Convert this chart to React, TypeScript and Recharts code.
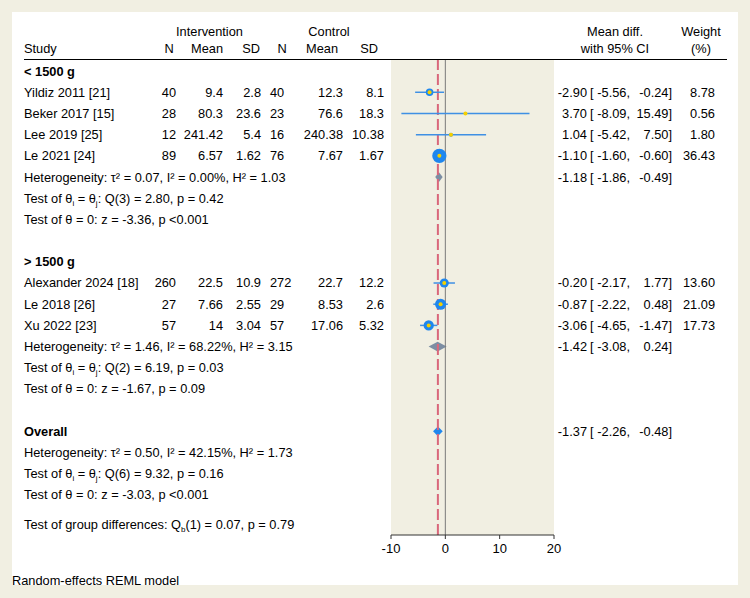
import React from "react";
import {
  CartesianGrid,
  ComposedChart,
  ErrorBar,
  ReferenceArea,
  ReferenceLine,
  Scatter,
  XAxis,
  YAxis,
} from "recharts";

// study rows
const studies = [
  "Yildiz 2011 [21]",
  "Beker 2017 [15]",
  "Lee 2019 [25]",
  "Le 2021 [24]",
  "Alexander 2024 [18]",
  "Le 2018 [26]",
  "Xu 2022 [23]",
];
const studyRow = [1, 2, 3, 4, 10, 11, 12];
const intN = ["40", "28", "12", "89", "260", "27", "57"];
const intMean = ["9.4", "80.3", "241.42", "6.57", "22.5", "7.66", "14"];
const intSD = ["2.8", "23.6", "5.4", "1.62", "10.9", "2.55", "3.04"];
const ctlN = ["40", "23", "16", "76", "272", "29", "57"];
const ctlMean = ["12.3", "76.6", "240.38", "7.67", "22.7", "8.53", "17.06"];
const ctlSD = ["8.1", "18.3", "10.38", "1.67", "12.2", "2.6", "5.32"];
const md = [-2.9, 3.7, 1.04, -1.1, -0.2, -0.87, -3.06];
const mdLo = [-5.56, -8.09, -5.42, -1.6, -2.17, -2.22, -4.65];
const mdHi = [-0.24, 15.49, 7.5, -0.6, 1.77, 0.48, -1.47];
const weight = [8.78, 0.56, 1.8, 36.43, 13.6, 21.09, 17.73];

// subgroups + overall
const groupLabels = ["< 1500 g", "> 1500 g", "Overall"];
const groupRow = [0, 9, 17];
const statRow = [5, 13, 18];
const pooledRow = [5, 13, 17];
const pooledMd = [-1.18, -1.42, -1.37];
const pooledLo = [-1.86, -3.08, -2.26];
const pooledHi = [-0.49, 0.24, -0.48];
const hetText = [
  "Heterogeneity: τ² = 0.07, I² = 0.00%, H² = 1.03",
  "Heterogeneity: τ² = 1.46, I² = 68.22%, H² = 3.15",
  "Heterogeneity: τ² = 0.50, I² = 42.15%, H² = 1.73",
];
const qText = ["Q(3) = 2.80, p = 0.42", "Q(2) = 6.19, p = 0.03", "Q(6) = 9.32, p = 0.16"];
const zText = ["z = -3.36, p <0.001", "z = -1.67, p = 0.09", "z = -3.03, p <0.001"];
const groupDiffRow = 21.4;

const xTicks = [-10, 0, 10, 20];

const W = 750;
const H = 598;
const PLOT_L = 391;
const PLOT_R = 554;
const PLOT_T = 59;
const PLOT_B = 535;
const Y_MIN = -0.57;
const Y_MAX = 21.89;

const BLUE = "#1f87ee";
const CI_BLUE = "#3f90e4";
const YELLOW = "#f5d000";
const GREY_DIAMOND = "#7c8ea3";
const BEIGE = "#f1efe2";
const FONT = "'Liberation Sans', Arial, Helvetica, sans-serif";

const rowY = (r: number) => PLOT_T + ((r - Y_MIN) * (PLOT_B - PLOT_T)) / (Y_MAX - Y_MIN);

const points = studies.map((s, i) => ({
  x: md[i],
  y: studyRow[i],
  w: weight[i],
  err: [md[i] - mdLo[i], mdHi[i] - md[i]],
}));

function StudyMarker(props: any) {
  const { cx, cy, payload } = props;
  const r = 1.1 * Math.sqrt(payload.w) + 0.5;
  return (
    <g>
      <circle cx={cx} cy={cy} r={r} fill={BLUE} />
      <circle cx={cx} cy={cy} r={2} fill={YELLOW} />
    </g>
  );
}

function diamond(color: string) {
  return (p: any) => {
    const { x, y, width, height } = p;
    const midY = y + height / 2;
    const est = p.est;
    return (
      <polygon
        points={`${x},${midY} ${est},${y} ${x + width},${midY} ${est},${y + height}`}
        fill={color}
      />
    );
  };
}

function Sub({ children }: { children: string }) {
  return (
    <tspan dy={3} fontSize={8}>
      {children}
    </tspan>
  );
}

function CiText({ r, est, lo, hi, w }: { r: number; est: number; lo: number; hi: number; w?: number }) {
  const y = rowY(r);
  return (
    <g>
      <text x={587} y={y} dy="0.35em" textAnchor="end">{est.toFixed(2)}</text>
      <text x={590} y={y} dy="0.35em">[</text>
      <text x={630} y={y} dy="0.35em" textAnchor="end">{lo.toFixed(2)},</text>
      <text x={672} y={y} dy="0.35em" textAnchor="end">{hi.toFixed(2)}]</text>
      {w != null && (
        <text x={715} y={y} dy="0.35em" textAnchor="end">{w.toFixed(2)}</text>
      )}
    </g>
  );
}

export default function App() {
  const xScale = (v: number) => PLOT_L + ((v + 10) * (PLOT_R - PLOT_L)) / 30;
  return (
    <div style={{ position: "relative", width: W, height: H, background: BEIGE, fontFamily: FONT }}>
      <style>{`body{margin:0}`}</style>
      <div style={{ position: "absolute", left: 12, top: 12, width: 726, height: 573, background: "#fff" }} />
      <div style={{ position: "absolute", left: 0, top: 0 }}>
        <ComposedChart
          width={W}
          height={H}
          margin={{ top: PLOT_T, right: W - PLOT_R, bottom: H - PLOT_B - 30, left: PLOT_L }}
        >
          <CartesianGrid fill={BEIGE} horizontal={false} vertical={false} />
          <XAxis
            type="number"
            dataKey="x"
            domain={[-10, 20]}
            ticks={xTicks}
            allowDataOverflow
            height={30}
            tickSize={4}
            tickMargin={5}
            stroke="#333"
            tick={{ fill: "#000", fontSize: 13, fontFamily: FONT }}
          />
          <YAxis type="number" dataKey="y" domain={[Y_MIN, Y_MAX]} reversed hide allowDataOverflow />
          <ReferenceLine x={0} stroke="#7a7a7a" strokeWidth={1} />
          <ReferenceLine x={pooledMd[2]} stroke="#d9677b" strokeWidth={2} strokeDasharray="11 4" />
          {pooledRow.map((r, i) => (
            <ReferenceArea
              key={i}
              x1={pooledLo[i]}
              x2={pooledHi[i]}
              y1={r - 0.23}
              y2={r + 0.23}
              shape={(p: any) =>
                diamond(i === 2 ? BLUE : GREY_DIAMOND)({ ...p, est: xScale(pooledMd[i]) })
              }
            />
          ))}
          <Scatter data={points} shape={<StudyMarker />} isAnimationActive={false}>
            <ErrorBar dataKey="err" direction="x" width={0} stroke={CI_BLUE} strokeWidth={1.5} />
          </Scatter>
        </ComposedChart>
      </div>
      <svg
        width={W}
        height={H}
        style={{ position: "absolute", left: 0, top: 0, pointerEvents: "none" }}
        fontFamily={FONT}
        fontSize={12.8}
        fill="#000"
      >
        {/* header */}
        <text x={209.5} y={32} dy="0.35em" textAnchor="middle">Intervention</text>
        <text x={329} y={32} dy="0.35em" textAnchor="middle">Control</text>
        <text x={24} y={49} dy="0.35em">Study</text>
        <text x={169} y={49} dy="0.35em" textAnchor="middle">N</text>
        <text x={223} y={49} dy="0.35em" textAnchor="end">Mean</text>
        <text x={260} y={49} dy="0.35em" textAnchor="end">SD</text>
        <text x={282} y={49} dy="0.35em" textAnchor="middle">N</text>
        <text x={338} y={49} dy="0.35em" textAnchor="end">Mean</text>
        <text x={378} y={49} dy="0.35em" textAnchor="end">SD</text>
        <text x={615} y={32} dy="0.35em" textAnchor="middle">Mean diff.</text>
        <text x={615} y={49} dy="0.35em" textAnchor="middle">with 95% CI</text>
        <text x={701} y={32} dy="0.35em" textAnchor="middle">Weight</text>
        <text x={701} y={49} dy="0.35em" textAnchor="middle">(%)</text>
        <line x1={24} x2={727} y1={59.5} y2={59.5} stroke="#000" strokeWidth={1} />

        {/* group headings and stats */}
        {groupLabels.map((g, i) => {
          const sr = statRow[i];
          return (
            <g key={g}>
              <text x={24} y={rowY(groupRow[i])} dy="0.35em" fontWeight="bold">{g}</text>
              <text x={24} y={rowY(sr)} dy="0.35em">{hetText[i]}</text>
              <text x={24} y={rowY(sr + 1)} dy="0.35em">
                Test of θ<Sub>i</Sub>
                <tspan dy={-3}> = θ</tspan>
                <Sub>j</Sub>
                <tspan dy={-3}>: {qText[i]}</tspan>
              </text>
              <text x={24} y={rowY(sr + 2)} dy="0.35em">Test of θ = 0: {zText[i]}</text>
              <CiText r={pooledRow[i]} est={pooledMd[i]} lo={pooledLo[i]} hi={pooledHi[i]} />
            </g>
          );
        })}
        <text x={24} y={rowY(groupDiffRow)} dy="0.35em">
          Test of group differences: Q<Sub>b</Sub>
          <tspan dy={-3}>(1) = 0.07, p = 0.79</tspan>
        </text>

        {/* study rows */}
        {studies.map((s, i) => {
          const y = rowY(studyRow[i]);
          return (
            <g key={s}>
              <text x={24} y={y} dy="0.35em">{s}</text>
              <text x={176} y={y} dy="0.35em" textAnchor="end">{intN[i]}</text>
              <text x={223} y={y} dy="0.35em" textAnchor="end">{intMean[i]}</text>
              <text x={261} y={y} dy="0.35em" textAnchor="end">{intSD[i]}</text>
              <text x={270} y={y} dy="0.35em">{ctlN[i]}</text>
              <text x={343} y={y} dy="0.35em" textAnchor="end">{ctlMean[i]}</text>
              <text x={384} y={y} dy="0.35em" textAnchor="end">{ctlSD[i]}</text>
              <CiText r={studyRow[i]} est={md[i]} lo={mdLo[i]} hi={mdHi[i]} w={weight[i]} />
            </g>
          );
        })}

        <text x={12} y={581} dy="0.35em">Random-effects REML model</text>
      </svg>
    </div>
  );
}
